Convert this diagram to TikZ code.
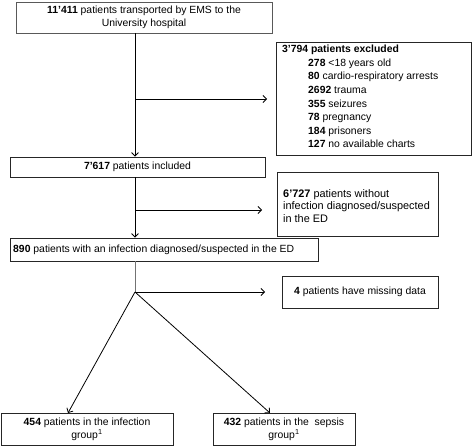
\documentclass[tikz,border=0pt]{standalone}
\usepackage{fontspec}
\setmainfont{Liberation Sans}
\usetikzlibrary{arrows.meta}
\begin{document}
\begin{tikzpicture}[x=1pt,y=-1pt,
  txt/.style={font=\fontsize{10.4}{12.8}\selectfont},
  box/.style={draw=black!85,line width=0.8pt,inner sep=0pt,txt},
  arr/.style={line width=0.8pt,-{Straight Barb[length=3.5pt,width=7pt]}},
  ln/.style={line width=0.8pt}]
\useasboundingbox (0,0) rectangle (473,446);
\node[box,draw=black!65,minimum width=256pt,minimum height=31pt,align=center] (top) at (144,17.5)
  {\textbf{11'411} patients transported by EMS to the\\University hospital};
\node[box,minimum width=195pt,minimum height=113pt,anchor=north west] (excl) at (276,42) {};
\node[anchor=north west,inner sep=0pt,align=left,font=\fontsize{10.4}{13.6}\selectfont] (excltxt) at (282,45)
  {\textbf{3'794 patients excluded}\\
   \hspace*{26pt}\textbf{278} <18 years old\\
   \hspace*{26pt}\textbf{80} cardio-respiratory arrests\\
   \hspace*{26pt}\textbf{2692} trauma\\
   \hspace*{26pt}\textbf{355} seizures\\
   \hspace*{26pt}\textbf{78} pregnancy\\
   \hspace*{26pt}\textbf{184} prisoners\\
   \hspace*{26pt}\textbf{127} no available charts};
\node[box,minimum width=255pt,minimum height=20pt] (incl) at (137.5,167) {\textbf{7'617} patients included};
\node[box,minimum width=161pt,minimum height=64pt] (noinf) at (357.5,204.5) {};
\node[anchor=west,inner sep=0pt,align=left,font=\fontsize{10.9}{12.6}\selectfont] (noinftxt) at (283,206)
  {\textbf{6'727} patients without\\infection diagnosed/suspected\\in the ED};
\node[box,minimum width=308pt,minimum height=23pt] (inf) at (164,249.5) {};
\node[anchor=west,inner sep=0pt,txt] (inftxt) at (13,249.5)
  {\textbf{890} patients with an infection diagnosed/suspected in the ED};
\node[box,minimum width=156pt,minimum height=32pt] (miss) at (360,292) {\textbf{4} patients have missing data};
\node[box,minimum width=172pt,minimum height=32pt,align=center] (grpA) at (87,429)
  {\textbf{454} patients in the infection\\group\textsuperscript{1}};
\node[box,minimum width=142pt,minimum height=32pt,align=center] (grpB) at (284,429)
  {\textbf{432} patients in the \ sepsis\\group\textsuperscript{1}};
\coordinate (b1) at (135,99);
\coordinate (b2) at (135,210);
\coordinate (b3) at (135,292);
\coordinate (e1) at (267,99);
\coordinate (e2) at (262,210);
\coordinate (e3) at (265,292);
\coordinate (ea) at (68,413);
\coordinate (eb) at (270,413);
\draw[arr] (top.south -| b1) -- (incl.north -| b1);
\draw[arr] (b1) -- (e1);
\draw[arr] (incl.south -| b2) -- (inf.north -| b2);
\draw[arr] (b2) -- (e2);
\draw[ln,black!55] (inf.south -| b3) -- (b3);
\draw[arr] (b3) -- (e3);
\draw[arr] (b3) -- (ea);
\draw[arr] (b3) -- (eb);
\end{tikzpicture}
\end{document}
